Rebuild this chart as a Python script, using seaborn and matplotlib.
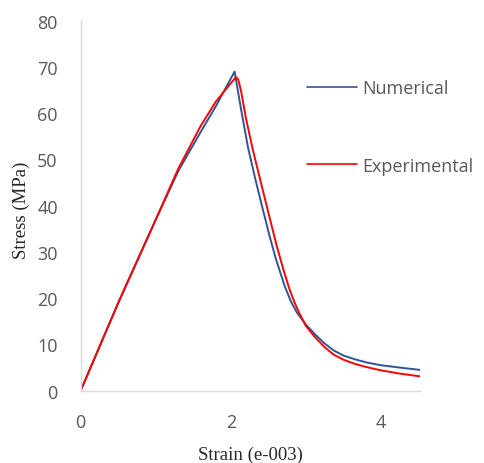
import pandas as pd
import matplotlib
matplotlib.use("Agg")
import matplotlib.pyplot as plt
import seaborn as sns

# values
num_strain = [0, 0.5, 1.0, 1.3, 1.6, 1.8, 2.05, 2.14, 2.23, 2.33, 2.42, 2.52, 2.6, 2.72,
              2.8, 2.88, 3.0, 3.12, 3.25, 3.37, 3.5, 3.65, 3.81, 4.0, 4.25, 4.52]
num_stress = [0, 19, 37, 47.5, 56, 61.5, 69, 60.5, 52.5, 45.5, 39.6, 33.2, 28.5, 22.5,
              19.3, 16.9, 14.3, 12.2, 10.2, 8.7, 7.6, 6.8, 6.1, 5.5, 5.0, 4.5]

exp_strain = [0, 0.5, 1.0, 1.3, 1.6, 1.8, 2.0, 2.07, 2.1, 2.14, 2.2, 2.29, 2.39, 2.5,
              2.61, 2.7, 2.78, 2.85, 2.92, 3.0, 3.12, 3.25, 3.37, 3.5, 3.65, 3.81, 4.0,
              4.25, 4.52]
exp_stress = [0, 19, 37, 48, 57.3, 62.5, 66.5, 67.8, 67.2, 64.5, 59, 52.3, 45.7, 38.5,
              31.4, 26.2, 22, 19, 16.5, 14, 11.6, 9.4, 7.8, 6.7, 5.8, 5.1, 4.4,
              3.7, 3.1]

series_names = ["Numerical", "Experimental"]
series_colors = ["#2F5597", "#FF0000"]
x_ticks = [0, 2, 4]
y_ticks = [0, 10, 20, 30, 40, 50, 60, 70, 80]

df = pd.concat([
    pd.DataFrame({"strain": num_strain, "stress": num_stress, "series": series_names[0]}),
    pd.DataFrame({"strain": exp_strain, "stress": exp_stress, "series": series_names[1]}),
])

sns.set_style("white")
plt.rcParams['font.family'] = ['Open Sans', 'DejaVu Sans']

fig = plt.figure(figsize=(4.84, 4.64), dpi=100)
ax = fig.add_axes([80.7 / 484, 1 - 391.7 / 464, (420 - 80.7) / 484, 370 / 464])

sns.lineplot(data=df, x="strain", y="stress", hue="series", hue_order=series_names,
             palette=series_colors, estimator=None, sort=False, linewidth=1.4, ax=ax)

ax.set_xlim(0, 4.52)
ax.set_ylim(0, 80)
ax.set_xticks(x_ticks)
ax.set_yticks(y_ticks)
ax.tick_params(axis='both', length=0, labelsize=13, labelcolor='#595959')
ax.tick_params(axis='x', pad=16)
ax.tick_params(axis='y', pad=16.5)

for side in ['top', 'right']:
    ax.spines[side].set_visible(False)
for side in ['left', 'bottom']:
    ax.spines[side].set_color('#D9D9D9')
    ax.spines[side].set_linewidth(1.0)

ax.set_xlabel('Strain (e-003)', fontsize=13.5, family='Liberation Serif', color='#262626')
ax.set_ylabel('Stress (MPa)', fontsize=13.5, family='Liberation Serif', color='#262626')
ax.xaxis.set_label_coords(0.5, -0.149)
ax.yaxis.set_label_coords(-0.15, 0.491)

leg = ax.legend(loc='center left', bbox_to_anchor=(306.7 / 484, 1 - 128 / 464),
                bbox_transform=fig.transFigure, frameon=False, fontsize=13,
                handlelength=2.78, handletextpad=0.28, labelspacing=3.3,
                borderpad=0, borderaxespad=0, labelcolor='#595959')
for line in leg.get_lines():
    line.set_linewidth(1.2)

fig.savefig('out.png', dpi=100)
